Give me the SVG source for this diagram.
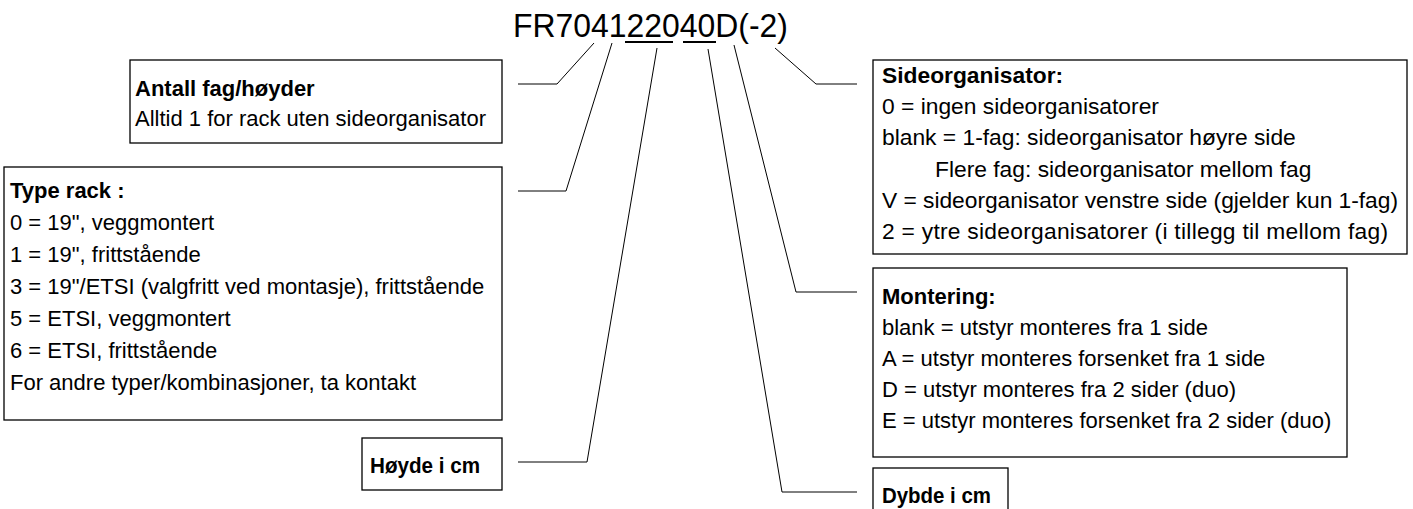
<svg xmlns="http://www.w3.org/2000/svg" width="1413" height="509" viewBox="0 0 1413 509">
<style>
  .box { fill: #ffffff; stroke: #000000; stroke-width: 1.3; }
  .t { font-family: "Liberation Sans", Arial, sans-serif; font-size: 22px; fill: #000000; }
  .s { font-size: 22.8px; }
  .b { font-weight: bold; }
  .title { font-family: "Liberation Sans", Arial, sans-serif; font-size: 33px; fill: #000000; }
  .conn { fill: none; stroke: #000000; stroke-width: 1; }
  .ul { stroke: #000000; stroke-width: 2.2; }
</style>
<rect x="0" y="0" width="1413" height="509" fill="#ffffff"/>
<g id="code">
  <text class="title" x="513" y="37" textLength="275" lengthAdjust="spacingAndGlyphs">FR704122040D(-2)</text>
  <line class="ul" x1="625" y1="42" x2="673" y2="42"/>
  <line class="ul" x1="683" y1="42" x2="716" y2="42"/>
</g>
<g id="connectors">
  <polyline class="conn" points="518,84 557,84 594,43"/>
  <polyline class="conn" points="518,191 566,191 612,43"/>
  <polyline class="conn" points="518,462 587,462 657,48"/>
  <polyline class="conn" points="857,492 782,492 708,49"/>
  <polyline class="conn" points="857,292 796,292 734,45"/>
  <polyline class="conn" points="857,84 816,84 775,48"/>
</g>
<g id="antall">
  <rect class="box" x="130" y="60" width="372" height="83"/>
  <text class="t b" x="135" y="96">Antall fag/høyder</text>
  <text class="t" x="135" y="126">Alltid 1 for rack uten sideorganisator</text>
</g>
<g id="type-rack">
  <rect class="box" x="4" y="167" width="498" height="253"/>
  <text class="t b" x="10" y="198">Type rack :</text>
  <text class="t" x="10" y="230">0 = 19", veggmontert</text>
  <text class="t" x="10" y="262">1 = 19", frittstående</text>
  <text class="t" x="10" y="294">3 = 19"/ETSI (valgfritt ved montasje), frittstående</text>
  <text class="t" x="10" y="326">5 = ETSI, veggmontert</text>
  <text class="t" x="10" y="358">6 = ETSI, frittstående</text>
  <text class="t" x="10" y="390">For andre typer/kombinasjoner, ta kontakt</text>
</g>
<g id="hoyde">
  <rect class="box" x="362" y="438" width="140" height="52"/>
  <text class="t b" x="370" y="473" textLength="110" lengthAdjust="spacingAndGlyphs">Høyde i cm</text>
</g>
<g id="sideorganisator">
  <rect class="box" x="873" y="60" width="534" height="194"/>
  <text class="t s b" x="882" y="83">Sideorganisator:</text>
  <text class="t s" x="882" y="114">0 = ingen sideorganisatorer</text>
  <text class="t s" x="882" y="145">blank = 1-fag: sideorganisator høyre side</text>
  <text class="t s" x="935" y="177">Flere fag: sideorganisator mellom fag</text>
  <text class="t s" x="882" y="208" textLength="516">V = sideorganisator venstre side (gjelder kun 1-fag)</text>
  <text class="t s" x="882" y="239" textLength="506">2 = ytre sideorganisatorer (i tillegg til mellom fag)</text>
</g>
<g id="montering">
  <rect class="box" x="873" y="268" width="474" height="189"/>
  <text class="t b" x="882" y="304">Montering:</text>
  <text class="t" x="882" y="335">blank = utstyr monteres fra 1 side</text>
  <text class="t" x="882" y="366">A = utstyr monteres forsenket fra 1 side</text>
  <text class="t" x="882" y="397">D = utstyr monteres fra 2 sider (duo)</text>
  <text class="t" x="882" y="428">E = utstyr monteres forsenket fra 2 sider (duo)</text>
</g>
<g id="dybde">
  <rect class="box" x="873" y="468" width="135" height="60"/>
  <text class="t b" x="882" y="503" textLength="109" lengthAdjust="spacingAndGlyphs">Dybde i cm</text>
</g>
</svg>
